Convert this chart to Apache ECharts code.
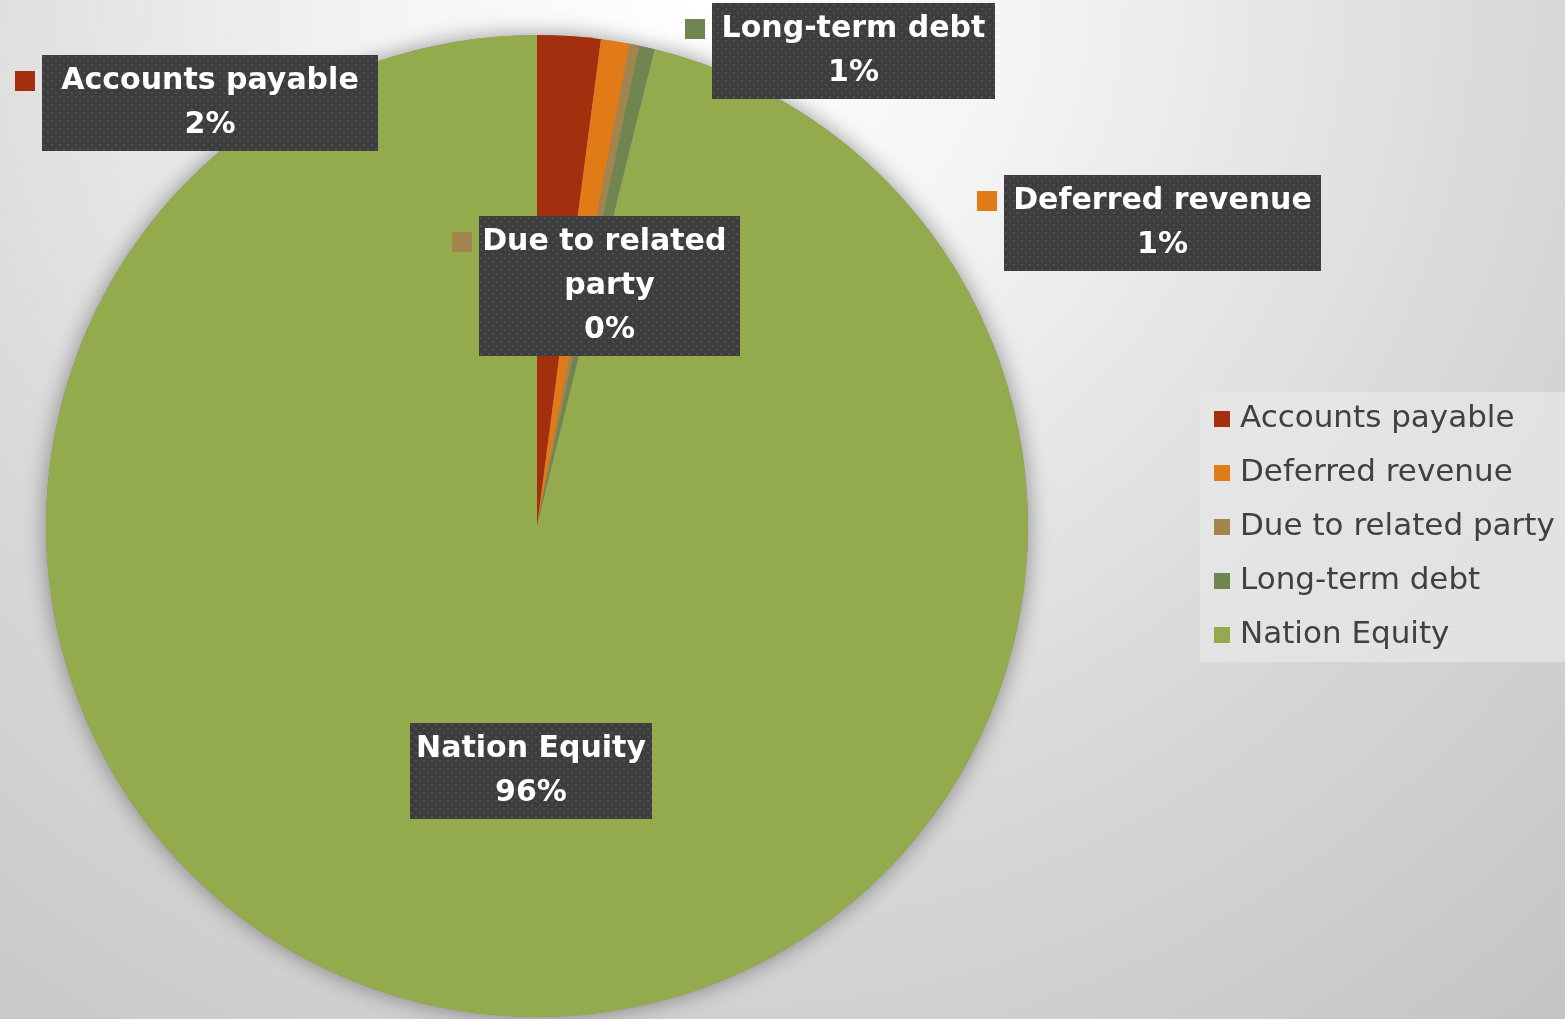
<!DOCTYPE html>
<html>
<head>
<meta charset="utf-8">
<script src="https://cdn.jsdelivr.net/npm/echarts@6/dist/echarts.min.js"></script>
<style>
    html, body { margin: 0; padding: 0; }
    body {
        width: 1565px; height: 1019px; overflow: hidden;
        background: radial-gradient(circle at 700px 0px, #ffffff 0px, #f5f5f5 300px, #e7e7e7 560px, #d9d9d9 820px, #cecece 1100px, #c2c2c2 1380px);
    }
    #main { width: 1565px; height: 1019px; }
</style>
</head>
<body>
<div id="main"></div>
<script>
var names = ['Accounts payable', 'Deferred revenue', 'Due to related party', 'Long-term debt', 'Nation Equity'];
var values = [2.08, 0.95, 0.31, 0.51, 96.15];
var colors = ['#a42f0f', '#e07b17', '#a2844f', '#6f8651', '#93ab4d'];

// where Excel put the data-label boxes (left, top, width, height)
var boxes = [
    {x: 42, y: 55, w: 336, h: 96},
    {x: 1004, y: 175, w: 317, h: 96},
    {x: 479, y: 216, w: 261, h: 140},
    {x: 712, y: 3, w: 283, h: 96},
    {x: 410, y: 723, w: 242, h: 96}
];

// dark box with the little dot texture
function makeDots(w, h) {
    var c = document.createElement('canvas');
    c.width = w;
    c.height = h;
    var ctx = c.getContext('2d');
    ctx.fillStyle = '#3d3d3d';
    ctx.fillRect(0, 0, w, h);
    ctx.fillStyle = '#505050';
    for (var y = 1; y < h; y += 8) {
        for (var x = 1; x < w; x += 8) {
            ctx.fillRect(x, y, 2, 2);
            ctx.fillRect(x + 4, y + 4, 2, 2);
        }
    }
    return c;
}

var mainData = [], shadowData = [], keyData = [];
for (var i = 0; i < values.length; i++) {
    mainData.push({
        name: names[i],
        value: values[i],
        itemStyle: {color: colors[i]},
        label: {width: boxes[i].w, backgroundColor: {image: makeDots(boxes[i].w, boxes[i].h)}}
    });
    shadowData.push({name: names[i], value: values[i]});
    keyData.push({name: names[i], value: values[i], label: {backgroundColor: colors[i]}});
}

function boxCenter(p) {
    var b = boxes[p.dataIndex];
    return {x: b.x + b.w / 2, y: b.y + b.h / 2, align: 'center', verticalAlign: 'middle'};
}

function keyPos(p) {
    var b = boxes[p.dataIndex];
    return {x: b.x - 17, y: b.y + 26, align: 'center', verticalAlign: 'middle'};
}

var myChart = echarts.init(document.getElementById('main'));
var option = {
    backgroundColor: 'transparent',
    animation: false,
    legend: {
        orient: 'vertical',
        left: 1200,
        top: 392,
        padding: [11, 20, 11, 14],
        backgroundColor: 'rgba(232,232,232,0.7)',
        icon: 'rect',
        itemWidth: 16,
        itemHeight: 16,
        itemGap: 22,
        selectedMode: false,
        textStyle: {
            fontFamily: 'DejaVu Sans',
            fontSize: 31,
            lineHeight: 32,
            color: '#404040',
            padding: [0, 0, 0, 5]
        },
        data: names
    },
    series: [
        {
            name: 'main',
            type: 'pie',
            z: 3,
            center: [537, 526],
            radius: 491,
            startAngle: 90,
            avoidLabelOverlap: false,
            silent: true,
            data: mainData,
            label: {
                show: true,
                position: 'inside',
                formatter: function (p) {
                    return p.name + '\n' + Math.round(p.percent) + '%';
                },
                fontFamily: 'DejaVu Sans',
                fontWeight: 'bold',
                fontSize: 30,
                lineHeight: 44,
                color: '#ffffff',
                align: 'center',
                overflow: 'break',
                padding: [6, 0, 2, 0],
                shadowColor: 'rgba(0,0,0,0.55)',
                shadowBlur: 6,
                shadowOffsetX: 4,
                shadowOffsetY: 4
            },
            labelLine: {show: false},
            labelLayout: boxCenter,
            emphasis: {disabled: true}
        },
        {
            name: 'shadow',
            type: 'pie',
            z: 1,
            center: [537, 526],
            radius: 491,
            startAngle: 90,
            silent: true,
            data: shadowData,
            itemStyle: {
                color: '#8a8a8a',
                shadowBlur: 22,
                shadowColor: 'rgba(0,0,0,0.4)'
            },
            label: {show: false},
            labelLine: {show: false},
            emphasis: {disabled: true}
        },
        {
            name: 'keys',
            type: 'pie',
            z: 4,
            center: [537, 526],
            radius: 491,
            startAngle: 90,
            avoidLabelOverlap: false,
            silent: true,
            data: keyData,
            itemStyle: {color: 'rgba(0,0,0,0)'},
            label: {
                show: true,
                position: 'inside',
                formatter: ' ',
                width: 20,
                height: 20,
                fontSize: 12
            },
            labelLine: {show: false},
            labelLayout: keyPos,
            emphasis: {disabled: true}
        }
    ]
};
if (option && typeof option === "object") {
    myChart.setOption(option, true);
}
</script>
</body>
</html>
